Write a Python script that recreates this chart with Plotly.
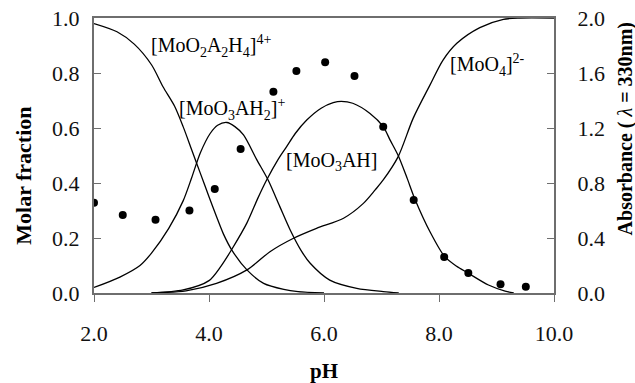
import plotly.graph_objects as go

# ---- data ----
ph_c1 = [2.0, 2.4, 2.7, 3.0, 3.2, 3.4, 3.55, 3.7, 3.85, 4.0, 4.13, 4.25, 4.4, 4.66, 4.95, 5.3, 5.55, 6.0]
fr_c1 = [0.98, 0.95, 0.905, 0.83, 0.75, 0.68, 0.605, 0.52, 0.435, 0.35, 0.278, 0.215, 0.155, 0.084, 0.035, 0.013, 0.005, 0.0]

ph_c2 = [2.0, 2.45, 2.8, 3.0, 3.3, 3.55, 3.7, 3.85, 4.02, 4.15, 4.31, 4.45, 4.6, 4.83, 5.03, 5.23, 5.41, 5.6, 5.76, 6.1, 6.57, 7.03, 7.3]
fr_c2 = [0.02, 0.058, 0.10, 0.145, 0.235, 0.335, 0.42, 0.51, 0.58, 0.61, 0.62, 0.605, 0.575, 0.485, 0.41, 0.315, 0.23, 0.155, 0.108, 0.047, 0.017, 0.005, 0.0]

ph_c3 = [3.0, 3.55, 4.0, 4.2, 4.4, 4.66, 4.85, 5.0, 5.2, 5.35, 5.5, 5.7, 5.95, 6.16, 6.3, 6.5, 6.8, 7.03, 7.15, 7.29, 7.45, 7.58, 7.85, 8.1, 8.3, 8.51, 8.86, 9.15, 9.3]
fr_c3 = [0.0, 0.011, 0.045, 0.095, 0.16, 0.255, 0.345, 0.41, 0.485, 0.532, 0.58, 0.629, 0.672, 0.692, 0.697, 0.69, 0.653, 0.605, 0.556, 0.50, 0.415, 0.342, 0.22, 0.132, 0.098, 0.072, 0.029, 0.007, 0.0]

ph_c4 = [3.0, 3.6, 4.13, 4.66, 5.06, 5.47, 5.87, 6.34, 6.68, 6.89, 7.03, 7.29, 7.55, 7.84, 8.07, 8.31, 8.71, 9.12, 9.4, 10.0]
fr_c4 = [0.0, 0.008, 0.035, 0.084, 0.15, 0.199, 0.235, 0.272, 0.325, 0.375, 0.411, 0.496, 0.635, 0.755, 0.847, 0.908, 0.965, 0.995, 1.0, 1.0]

ph_abs = [2.0, 2.5, 3.07, 3.66, 4.1, 4.55, 5.12, 5.52, 6.02, 6.53, 7.03, 7.56, 8.09, 8.51, 9.07, 9.51]
absorb = [0.657, 0.567, 0.533, 0.60, 0.756, 1.047, 1.464, 1.615, 1.678, 1.578, 1.209, 0.676, 0.262, 0.145, 0.063, 0.046]

labels = ["[MoO<sub>2</sub>A<sub>2</sub>H<sub>4</sub>]<sup>4+</sup>",
          "[MoO<sub>3</sub>AH<sub>2</sub>]<sup>+</sup>",
          "[MoO<sub>3</sub>AH]",
          "[MoO<sub>4</sub>]<sup>2-</sup>"]
label_ph = [2.96, 3.44, 5.30, 8.15]
label_fr = [0.90, 0.669, 0.478, 0.828]

x_ticks = [2, 4, 6, 8, 10]
y_ticks = [0, 0.2, 0.4, 0.6, 0.8, 1.0]
y2_ticks = [0, 0.4, 0.8, 1.2, 1.6, 2.0]

FONT = "Liberation Serif"
AXC = "#6e6e6e"

fig = go.Figure()
for xs, ys in [(ph_c1, fr_c1), (ph_c2, fr_c2), (ph_c3, fr_c3), (ph_c4, fr_c4)]:
    fig.add_trace(go.Scatter(x=xs, y=ys, mode="lines",
                             line=dict(color="black", width=1.3, shape="spline", smoothing=0.8),
                             showlegend=False, hoverinfo="skip"))
fig.add_trace(go.Scatter(x=ph_abs, y=absorb, mode="markers", yaxis="y2",
                         marker=dict(color="black", size=8), showlegend=False))

for t, xp, yp in zip(labels, label_ph, label_fr):
    fig.add_annotation(x=xp, y=yp, xref="x", yref="y", text=t, showarrow=False,
                       xanchor="left", yanchor="middle",
                       font=dict(family=FONT, size=20, color="black"))

fig.add_annotation(x=-0.154, y=0.427, xref="paper", yref="paper", text="<b>Molar fraction</b>",
                   textangle=-90, showarrow=False, xanchor="center", yanchor="middle",
                   font=dict(family=FONT, size=22, color="black"))
fig.add_annotation(x=0.5, y=-0.284, xref="paper", yref="paper", text="<b>pH</b>",
                   showarrow=False, xanchor="center", yanchor="middle",
                   font=dict(family=FONT, size=21, color="black"))
fig.add_annotation(x=1.155, y=0.596, xref="paper", yref="paper",
                   text="<b>Absorbance ( </b><i>λ</i><b> = 330nm)</b>",
                   textangle=-90, showarrow=False, xanchor="center", yanchor="middle",
                   font=dict(family=FONT, size=20, color="black"))

fig.update_layout(
    width=635, height=383,
    margin=dict(l=94, r=81, t=18, b=90),
    plot_bgcolor="white", paper_bgcolor="white",
    font=dict(family=FONT, size=22, color="#111"),
    xaxis=dict(range=[2, 10], tickvals=x_ticks, tickformat=".1f", showgrid=False, zeroline=False,
               showline=True, linecolor=AXC, linewidth=2, mirror=True, automargin=False,
               ticks="outside", ticklen=7, tickcolor=AXC, ticklabelstandoff=13,
               tickfont=dict(family=FONT, size=22, color="#111")),
    yaxis=dict(range=[0, 1], tickvals=y_ticks, tickformat=".1f", showgrid=False, zeroline=False,
               showline=True, linecolor=AXC, linewidth=2, automargin=False,
               ticks="inside", ticklen=7, tickcolor=AXC, ticklabelstandoff=8,
               tickfont=dict(family=FONT, size=22, color="#111")),
    yaxis2=dict(range=[0, 2], tickvals=y2_ticks, tickformat=".1f", overlaying="y", side="right",
                showgrid=False, zeroline=False, showline=True, linecolor=AXC, linewidth=2,
                automargin=False, ticks="inside", ticklen=7, tickcolor=AXC, ticklabelstandoff=17,
                tickfont=dict(family=FONT, size=22, color="#111")),
)

fig.write_html("out.html")
